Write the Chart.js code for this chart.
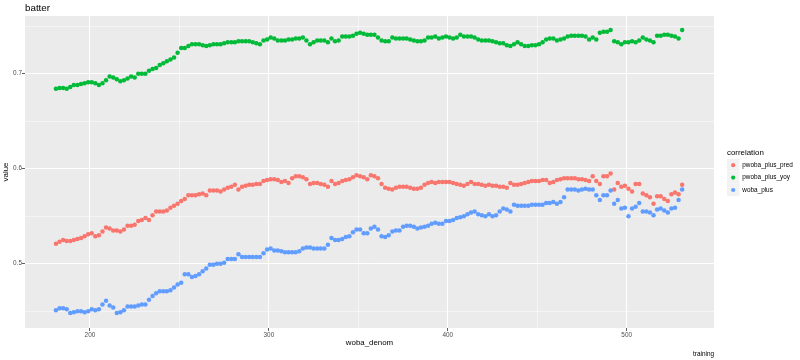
<!DOCTYPE html>
<html><head><meta charset="utf-8">
<script src="https://cdn.jsdelivr.net/npm/chart.js@4"></script>
<style>html,body{margin:0;padding:0;background:#fff}#wrap{width:800px;height:360px}</style>
</head><body><div id="wrap"><canvas id="c" width="800" height="360"></canvas></div>
<script>
const woba_denom = [
181,183,185,187,189,191,193,195,197,199,
201,203,205,207,209,211,213,215,217,219,
221,223,225,227,229,231,233,235,237,239,
241,243,245,247,249,251,253,255,257,259,
261,263,265,267,269,271,273,275,277,279,
281,283,285,287,289,291,293,295,297,299,
301,303,305,307,309,311,313,315,317,319,
321,323,325,327,329,331,333,335,337,339,
341,343,345,347,349,351,353,355,357,359,
361,363,365,367,369,371,373,375,377,379,
381,383,385,387,389,391,393,395,397,399,
401,403,405,407,409,411,413,415,417,419,
421,423,425,427,429,431,433,435,437,439,
441,443,445,447,449,451,453,455,457,459,
461,463,465,467,469,471,473,475,477,479,
481,483,485,487,489,491,493,495,497,499,
501,503,505,507,509,511,513,515,517,519,
521,523,525,527,529,531];

const pwoba_plus_pred = [
.521,.523,.525,.524,.524,.525,.526,.527,.529,.531,
.532,.529,.530,.534,.538,.537,.535,.535,.534,.536,
.540,.540,.541,.545,.546,.548,.546,.551,.555,.555,
.555,.556,.559,.561,.563,.566,.568,.572,.572,.572,
.573,.574,.572,.577,.577,.577,.576,.578,.580,.581,
.583,.578,.581,.582,.583,.583,.584,.584,.587,.588,
.589,.589,.588,.586,.587,.585,.590,.592,.592,.591,
.589,.584,.585,.585,.584,.583,.581,.587,.584,.585,
.587,.588,.589,.591,.593,.592,.591,.589,.593,.592,
.590,.584,.580,.579,.578,.580,.581,.581,.581,.580,
.579,.579,.580,.583,.585,.586,.585,.586,.586,.586,
.586,.585,.584,.583,.582,.584,.586,.584,.584,.583,
.582,.583,.582,.582,.581,.581,.580,.585,.583,.583,
.584,.585,.586,.587,.587,.587,.588,.588,.585,.586,
.588,.589,.590,.590,.590,.590,.589,.589,.588,.587,
.592,.587,.584,.592,.592,.595,.578,.585,.581,.582,
.579,.576,.584,.584,.574,.572,.570,.563,.571,.571,
.568,.566,.573,.575,.573,.583];

const pwoba_plus_yoy = [
.684,.685,.685,.684,.686,.688,.688,.689,.690,.691,
.691,.690,.688,.690,.693,.697,.696,.694,.692,.693,
.695,.697,.696,.700,.700,.700,.703,.705,.706,.709,
.711,.713,.715,.717,.722,.727,.727,.729,.731,.731,
.731,.730,.729,.730,.731,.731,.731,.732,.733,.733,
.733,.734,.734,.734,.734,.733,.732,.731,.735,.736,
.738,.737,.735,.735,.735,.736,.736,.737,.737,.738,
.735,.731,.733,.735,.735,.735,.733,.737,.734,.735,
.739,.739,.739,.740,.742,.743,.742,.741,.741,.741,
.738,.735,.734,.734,.738,.737,.737,.737,.737,.736,
.735,.734,.734,.735,.738,.738,.739,.737,.738,.739,
.738,.737,.738,.741,.739,.739,.739,.738,.736,.735,
.735,.735,.734,.733,.732,.732,.730,.729,.731,.733,
.731,.729,.729,.730,.730,.731,.733,.736,.737,.737,
.735,.736,.737,.739,.740,.740,.740,.740,.739,.736,
.738,.736,.743,.744,.744,.746,.734,.733,.731,.733,
.733,.734,.733,.735,.738,.736,.735,.733,.740,.740,
.741,.741,.740,.739,.737,.746];

const woba_plus = [
.451,.453,.453,.452,.448,.449,.450,.450,.449,.450,
.452,.451,.452,.457,.461,.456,.454,.448,.449,.451,
.455,.455,.455,.456,.457,.457,.462,.466,.469,.471,
.471,.471,.472,.475,.478,.480,.489,.489,.486,.487,
.489,.492,.495,.499,.499,.500,.500,.501,.505,.505,
.505,.510,.507,.507,.507,.507,.507,.507,.511,.515,
.516,.514,.514,.513,.512,.512,.512,.512,.513,.516,
.517,.517,.516,.516,.516,.516,.520,.527,.525,.525,
.526,.528,.529,.533,.536,.536,.532,.532,.537,.539,
.536,.529,.528,.530,.534,.535,.535,.539,.540,.540,
.539,.537,.538,.539,.540,.542,.543,.542,.542,.545,
.545,.546,.548,.549,.550,.552,.554,.555,.552,.551,
.550,.552,.550,.551,.555,.558,.557,.555,.562,.561,
.561,.561,.561,.562,.562,.562,.562,.564,.564,.565,
.563,.565,.570,.578,.578,.578,.577,.578,.579,.578,
.578,.572,.567,.572,.572,.577,.563,.567,.558,.559,
.550,.558,.560,.564,.555,.555,.554,.551,.557,.558,
.556,.554,.558,.559,.567,.578];

const seriesNames = ['pwoba_plus_pred', 'pwoba_plus_yoy', 'woba_plus'];
const seriesColors = ['#F8766D', '#00BA38', '#619CFF'];
const xTicks = [200, 250, 300, 350, 400, 450, 500];
const xMajor = [200, 300, 400, 500];
const yTicks = [0.45, 0.5, 0.55, 0.6, 0.65, 0.7, 0.75];
const yMajor = [0.5, 0.6, 0.7];

const FONT = '"Liberation Sans", Arial, Helvetica, sans-serif';
const isMajor = (list, v) => list.some(m => Math.abs(m - v) < 1e-9);
const seriesValues = [pwoba_plus_pred, pwoba_plus_yoy, woba_plus];

const datasets = seriesNames.map((name, k) => ({
  label: name,
  data: woba_denom.map((x, i) => ({x: x, y: seriesValues[k][i]})),
  backgroundColor: seriesColors[k],
  borderWidth: 0,
  pointRadius: 2.25,
  pointHoverRadius: 2.25,
  order: 3 - k
}));

const decor = {
  id: 'decor',
  beforeDraw(chart) {
    const {ctx, chartArea: a} = chart;
    ctx.save();
    ctx.fillStyle = '#FFFFFF';
    ctx.fillRect(0, 0, chart.width, chart.height);
    ctx.fillStyle = '#EBEBEB';
    ctx.fillRect(a.left, a.top, a.right - a.left, a.bottom - a.top);
    ctx.restore();
  },
  afterDraw(chart) {
    const {ctx, chartArea: a} = chart;
    ctx.save();
    ctx.fillStyle = '#000000';
    ctx.textBaseline = 'middle';
    ctx.font = '9.8px ' + FONT;
    ctx.textAlign = 'left';
    ctx.fillText('batter', a.left, 8);
    ctx.font = '7.9px ' + FONT;
    ctx.textAlign = 'center';
    ctx.fillText('woba_denom', (a.left + a.right) / 2, 343.3);
    ctx.save();
    ctx.translate(6, (a.top + a.bottom) / 2);
    ctx.rotate(-Math.PI / 2);
    ctx.fillText('value', 0, 0);
    ctx.restore();
    ctx.font = '6.4px ' + FONT;
    ctx.textAlign = 'right';
    ctx.fillText('training', a.right, 354);
    ctx.textAlign = 'left';
    ctx.font = '7.9px ' + FONT;
    ctx.fillText('correlation', 727, 153);
    ctx.font = '6.4px ' + FONT;
    seriesNames.forEach((name, k) => {
      const cy = 165.2 + k * 12.4;
      ctx.fillStyle = '#F2F2F2';
      ctx.fillRect(727, cy - 6.2, 12.4, 12.4);
      ctx.fillStyle = seriesColors[k];
      ctx.beginPath();
      ctx.arc(733.2, cy, 2.1, 0, Math.PI * 2);
      ctx.fill();
      ctx.fillStyle = '#000000';
      ctx.fillText(name, 742.3, cy);
    });
    ctx.restore();
  }
};

new Chart(document.getElementById('c'), {
  type: 'scatter',
  data: {datasets},
  options: {
    responsive: false,
    animation: false,
    devicePixelRatio: 1,
    events: [],
    layout: {padding: {left: 0, right: 86, top: 16, bottom: 10}},
    plugins: {legend: {display: false}, tooltip: {enabled: false}, title: {display: false}},
    scales: {
      x: {
        type: 'linear',
        min: 163.7, max: 548.8,
        afterBuildTicks: s => { s.ticks = xTicks.map(v => ({value: v})); },
        afterFit: s => { s.height = 22; },
        ticks: {
          callback: v => isMajor(xMajor, v) ? String(v) : '',
          font: {family: FONT, size: 6.4},
          color: '#4D4D4D',
          padding: 0,
          maxRotation: 0,
          autoSkip: false
        },
        grid: {
          color: '#FFFFFF',
          lineWidth: c => isMajor(xMajor, c.tick.value) ? 1 : 0.5,
          tickColor: c => isMajor(xMajor, c.tick.value) ? '#333333' : 'rgba(0,0,0,0)',
          tickLength: 3,
          tickWidth: 0.8
        },
        border: {display: false}
      },
      y: {
        type: 'linear',
        min: 0.4323, max: 0.7607,
        afterBuildTicks: s => { s.ticks = yTicks.map(v => ({value: v})); },
        afterFit: s => { s.width = 25; },
        ticks: {
          callback: v => isMajor(yMajor, v) ? String(v) : '',
          font: {family: FONT, size: 6.4},
          color: '#4D4D4D',
          padding: 0,
          autoSkip: false
        },
        grid: {
          color: '#FFFFFF',
          lineWidth: c => isMajor(yMajor, c.tick.value) ? 1 : 0.5,
          tickColor: c => isMajor(yMajor, c.tick.value) ? '#333333' : 'rgba(0,0,0,0)',
          tickLength: 3,
          tickWidth: 0.8
        },
        border: {display: false}
      }
    }
  },
  plugins: [decor]
});
</script>
</body></html>
